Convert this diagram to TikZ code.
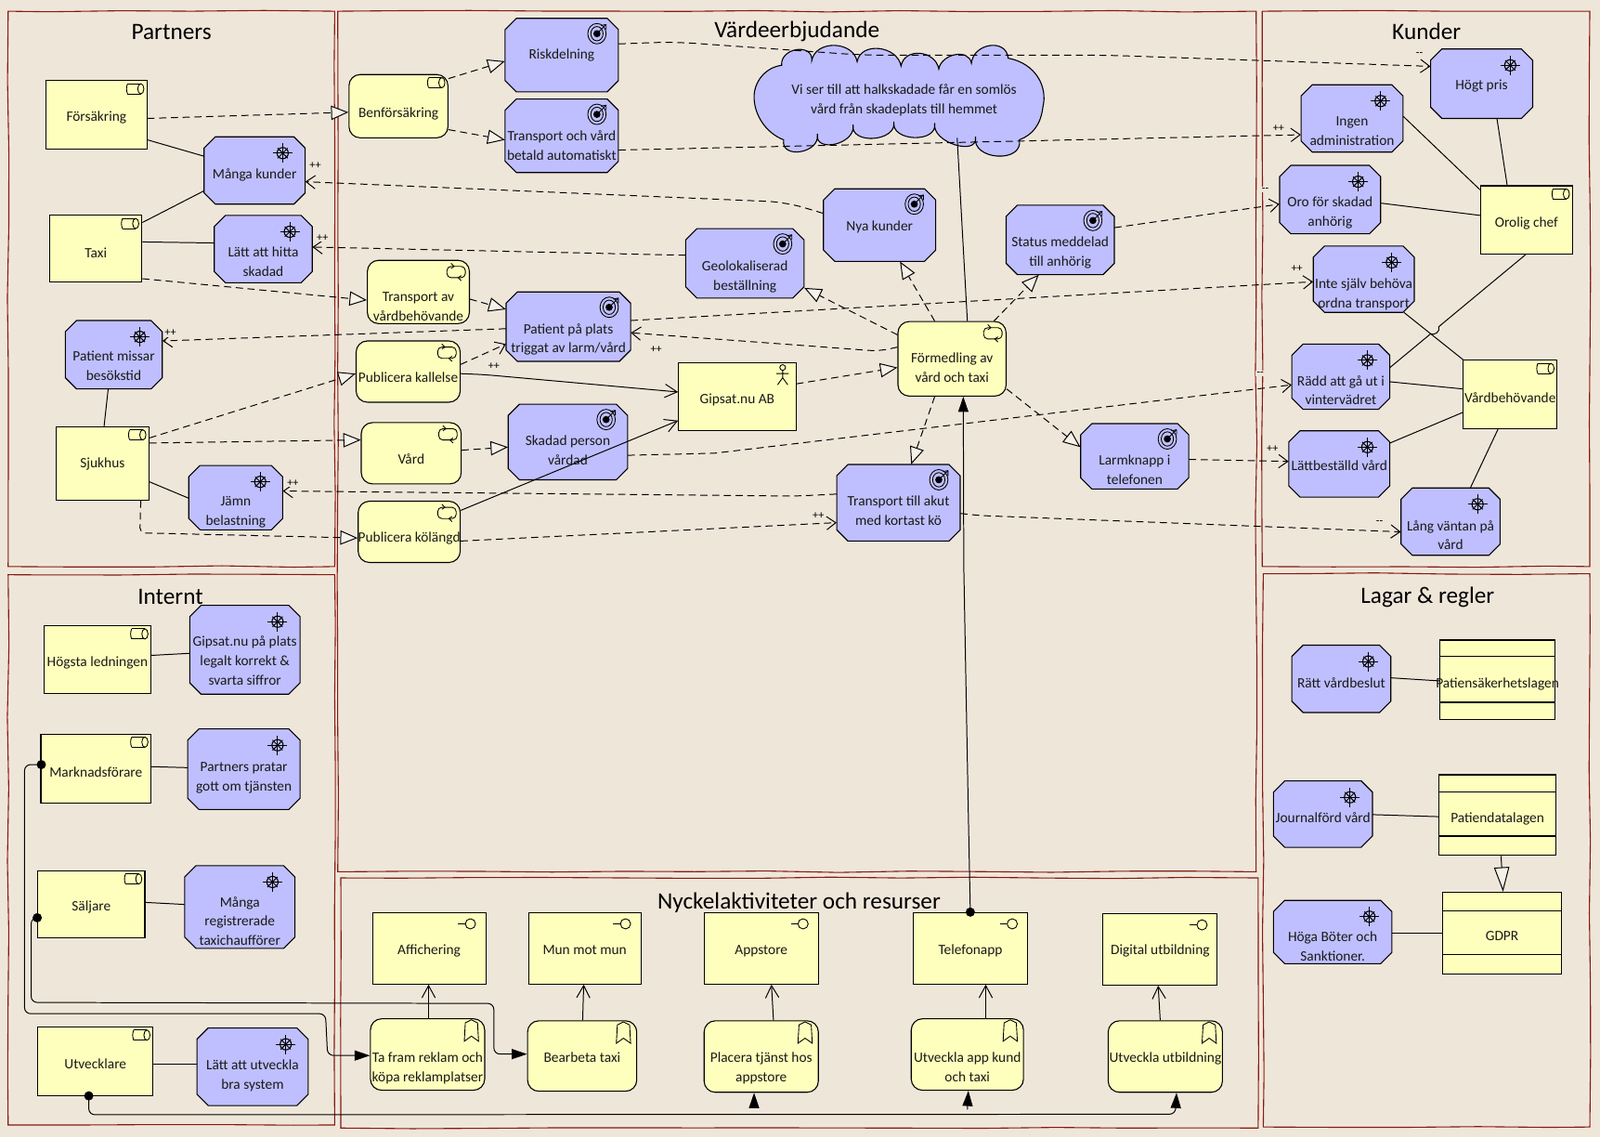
\documentclass[tikz,border=0pt]{standalone}
\usepackage{fontspec}
\setmainfont{Carlito}
\usetikzlibrary{arrows.meta,decorations.pathmorphing,calc}
\definecolor{bgc}{HTML}{EFE6DA}
\definecolor{yel}{HTML}{FFFFBD}
\definecolor{blu}{HTML}{BFBFFF}
\definecolor{frm}{HTML}{851A10}
\definecolor{tipf}{HTML}{F6F1E9}
\tikzset{
 frame/.style={draw=frm,line width=1pt,decorate,decoration={random steps,segment length=70pt,amplitude=0.8pt}},
 grouptitle/.style={font=\fontsize{23}{26}\selectfont,inner sep=0pt},
 boxtext/.style={font=\fontsize{14}{19}\selectfont,inner sep=0pt,text=black!90},
 yrect/.style={boxtext,draw=black,fill=yel,line width=1pt},
 yround/.style={boxtext,draw=black,fill=yel,line width=1pt,rounded corners=11pt},
 plainbox/.style={boxtext},
 lab/.style={font=\fontsize{11}{12}\selectfont,fill=bgc,inner sep=1pt},
 dsh/.style={line width=0.9pt,dash pattern=on 7pt off 4.5pt},
 real/.style={dsh,-{Triangle[length=17pt,width=14pt,fill=tipf]}},
 realsolid/.style={line width=0.9pt,-{Triangle[length=24pt,width=15pt,fill=tipf]}},
 infl/.style={dsh,-{Straight Barb[length=9pt,width=13pt]}},
 solidln/.style={line width=0.9pt},
 serve/.style={line width=0.9pt,-{Straight Barb[length=12pt,width=13pt]}},
 dotlink/.style={line width=0.9pt,rounded corners=6pt,{Circle[length=9pt]}-{Triangle[length=15pt,width=10pt]}},
 icn/.style={line width=0.8pt},
 noicon/.pic={},
 ricon/.pic={\begin{scope}[shift={(-11,8)},icn]
   \draw (-8,-5) -- (5,-5) (-8,5) -- (5,5); \draw (-8,-5) to[bend right=20] (-8,5); \draw (5,0) ellipse (3 and 5);\end{scope}},
 picon/.pic={\begin{scope}[shift={(-13,11)},icn]
   \draw[rounded corners=4pt] (-9,-5) rectangle (9,6); \draw (-5,-8) -- (-2,-5) -- (-5,-3) (5,9) -- (2,6) -- (5,4);\end{scope}},
 dicon/.pic={\begin{scope}[shift={(-22,16)},icn]
   \draw[line width=1pt] (0,0) circle[radius=5.5pt];
   \foreach \a in {0,90}{\draw[line width=.9pt] (\a:9.5pt) -- (\a+180:9.5pt);}
   \foreach \a in {45,135}{\draw[line width=.9pt] (\a:7pt) -- (\a+180:7pt);}
   \end{scope}},
 gicon/.pic={\begin{scope}[shift={(-21,15)},icn]
   \draw (0,0) ellipse (9 and 10); \draw (0,0) ellipse (6 and 7); \fill (0,0) circle[radius=3.5pt];
   \draw (0,0) -- (9,-9); \draw (9,-9) -- (4,-8) (9,-9) -- (9,-4);\end{scope}},
 iicon/.pic={\begin{scope}[shift={(-15,11)},icn]
   \draw (0,0) circle[radius=5pt]; \draw (-5,0) -- (-12,0);\end{scope}},
 eicon/.pic={\begin{scope}[shift={(-13,12)},icn]
   \draw (-6,-8) -- (-7,10) -- (0,5) -- (7,10) -- (6,-8) -- (0,-11) -- cycle;\end{scope}},
 aicon/.pic={\begin{scope}[shift={(-13,12)},icn]
   \draw (0,-7) circle[radius=2.8pt]; \draw (0,-4) -- (0,3) (-6,-1) -- (6,-1) (0,3) -- (-5,10) (0,3) -- (5,10);\end{scope}},
}
% #1 style #2 icon #3 name #4 x0 #5 y0 #6 x1 #7 y1 #8 text centre y #9 text
\newcommand{\nd}[9]{%
 \pgfmathsetmacro\myW{#6-#4}\pgfmathsetmacro\myH{#7-#5}%
 \pgfmathsetmacro\myCX{(#4+#6)/2}\pgfmathsetmacro\myCY{(#5+#7)/2}%
 \pgfmathsetmacro\myD{\myCY-#8-5}%
 \node[#1,minimum width=\myW pt,minimum height=\myH pt] (#3) at (\myCX,\myCY)
   {\makebox[0pt][c]{\raisebox{\myD pt}[0pt][0pt]{\begin{tabular}{@{}c@{}}#9\end{tabular}}}};%
 \pic at (#6,#5) {#2};%
}
% octagon (blue): icon name x0 y0 x1 y1 ty text
\newcommand{\oc}[8]{%
 \filldraw[fill=blu,draw=black,line width=1pt]
  ({#3+11},#4) -- ({#5-11},#4) -- (#5,{#4+11}) -- (#5,{#6-11}) -- ({#5-11},#6) -- ({#3+11},#6) -- (#3,{#6-11}) -- (#3,{#4+11}) -- cycle;%
 \nd{plainbox}{#1}{#2}{#3}{#4}{#5}{#6}{#7}{#8}%
}
\newcommand{\ctl}[3]{\draw[line width=1pt] (#1,#3) -- (#2,#3);}
\begin{document}
\begin{tikzpicture}[x=1pt,y=-1pt]
\useasboundingbox (0,0) rectangle (1568,1114);
\fill[bgc] (0,0) rectangle (1568,1114);
% groups
\node[frame,minimum width=320pt,minimum height=544pt,inner sep=0pt] (gpartners) at (168,283) {};
\node[frame,minimum width=900pt,minimum height=843pt,inner sep=0pt] (gvarde) at (781,432.5) {};
\node[frame,minimum width=321pt,minimum height=544pt,inner sep=0pt] (gkunder) at (1397.5,283) {};
\node[frame,minimum width=320pt,minimum height=539pt,inner sep=0pt] (ginternt) at (168,832.5) {};
\node[frame,minimum width=899pt,minimum height=245pt,inner sep=0pt] (gnyckel) at (783.5,982.5) {};
\node[frame,minimum width=320pt,minimum height=542pt,inner sep=0pt] (glagar) at (1398,833) {};
\node[grouptitle] (t1) at (168,31) {Partners};
\node[grouptitle] (t2) at (781,31) {Värdeerbjudande};
\node[grouptitle] (t3) at (1398,31) {Kunder};
\node[grouptitle] (t4) at (167,585) {Internt};
\node[grouptitle] (t5) at (783,884) {Nyckelaktiviteter och resurser};
\node[grouptitle] (t6) at (1399,585) {Lagar \& regler};

% Partners
\nd{yrect}{ricon}{forsakring}{45}{79}{144}{146}{114}{Försäkring}
\oc{dicon}{manga}{200}{134}{299}{200}{170}{Många kunder}
\nd{yrect}{ricon}{taxi}{49}{211}{139}{276}{247}{Taxi}
\oc{dicon}{latt}{210}{211}{306}{277}{256}{Lätt att hitta\\skadad}
\oc{dicon}{missar}{64}{314}{159}{381}{358}{Patient missar\\besökstid}
\nd{yrect}{ricon}{sjukhus}{55}{418}{146}{490}{453}{Sjukhus}
\oc{dicon}{jamn}{185}{456}{277}{519}{500}{Jämn\\belastning}
% Value column
\nd{yround}{ricon}{benf}{342}{73}{439}{135}{110}{Benförsäkring}
\oc{gicon}{risk}{495}{18}{606}{90}{53}{Riskdelning}
\oc{gicon}{tov}{495}{97}{606}{169}{142.5}{Transport och vård\\betald automatiskt}
\nd{yround}{picon}{transpv}{360}{255}{460}{317}{300}{Transport av\\vårdbehövande}
\oc{gicon}{plats}{496}{286}{618}{354}{331}{Patient på plats\\triggat av larm/vård}
\nd{yround}{picon}{pubkall}{349}{334}{451}{394}{369}{Publicera kallelse}
\nd{yround}{picon}{vard}{354}{414}{452}{474}{449}{Vård}
\oc{gicon}{skadad}{498}{396}{615}{470}{441}{Skadad person\\vårdad}
\nd{yround}{picon}{pubkol}{351}{491}{451}{551}{526}{Publicera kölängd}
\nd{yrect}{aicon}{gipsat}{665}{355}{780}{422}{390}{Gipsat.nu AB}
\oc{gicon}{nya}{807}{185}{917}{256}{221}{Nya kunder}
\oc{gicon}{geo}{672}{224}{788}{292}{270}{Geolokaliserad\\beställning}
\oc{gicon}{status}{986}{201}{1092}{269}{246}{Status meddelad\\till anhörig}
\nd{yround}{picon}{form}{880}{315}{986}{388}{360}{Förmedling av\\vård och taxi}
\oc{gicon}{larm}{1059}{415}{1165}{479}{460}{Larmknapp i\\telefonen}
\oc{gicon}{trakut}{820}{455}{941}{530}{500}{Transport till akut\\med kortast kö}
% Cloud
\filldraw[fill=blu,draw=black,line width=1pt]
 (766,64) to[out=95,in=85,looseness=1.5] (795.5,59.4)
 to[out=80,in=100,looseness=1.2] (840,60.4)
 to[out=80,in=100,looseness=1.2] (883,64.7)
 to[out=80,in=100,looseness=1.3] (920,67.6)
 to[out=80,in=100,looseness=1.2] (952,62)
 to[out=85,in=95,looseness=1.4] (988,57)
 .. controls (1015,62) and (1027,85) .. (1022,105)
 .. controls (1020,122) and (1012,132) .. (999,137)
 to[out=-80,in=-100,looseness=1.4] (956,134)
 to[out=-80,in=-100,looseness=1.2] (916,120.5)
 to[out=-80,in=-100,looseness=1.3] (876,119)
 to[out=-80,in=-100,looseness=1.3] (836,122)
 to[out=-80,in=-100,looseness=1.4] (801,131)
 to[out=-80,in=-100,looseness=1.5] (768,137)
 .. controls (750,130) and (739,112) .. (739,95)
 .. controls (739,80) and (750,66) .. (766,64) -- cycle;
\node[boxtext] (cloud) at (886,96.5) {\makebox[0pt][c]{\raisebox{-5pt}[0pt][0pt]{\begin{tabular}{@{}c@{}}Vi ser till att halkskadade får en somlös\\vård från skadeplats till hemmet\end{tabular}}}};
% Kunder
\oc{dicon}{hogt}{1402}{48}{1502}{116}{83}{Högt pris}
\oc{dicon}{ingen}{1275}{83}{1375}{149}{128}{Ingen\\administration}
\oc{dicon}{oro}{1254}{162}{1353}{229}{207}{Oro för skadad\\anhörig}
\nd{yrect}{ricon}{orolig}{1451}{182}{1541}{249}{217}{Orolig chef}
\oc{dicon}{inte}{1287}{241}{1386}{306}{287}{Inte själv behöva\\ordna transport}
\oc{dicon}{radd}{1266}{337}{1362}{401}{382}{Rädd att gå ut i\\vintervädret}
\nd{yrect}{ricon}{vardb}{1434}{353}{1526}{420}{389}{Vårdbehövande}
\oc{dicon}{lattb}{1263}{422}{1362}{487}{456}{Lättbeställd vård}
\oc{dicon}{lang}{1373}{478}{1470}{544}{524}{Lång väntan på\\vård}
% Internt
\nd{yrect}{ricon}{hogsta}{43}{613}{148}{679}{648}{Högsta ledningen}
\oc{dicon}{gip}{186}{593}{294}{680}{647}{Gipsat.nu på plats\\legalt korrekt \&\\svarta siffror}
\nd{yrect}{ricon}{marknad}{40}{719}{148}{787}{756}{Marknadsförare}
\oc{dicon}{partners}{184}{714}{294}{793}{760}{Partners pratar\\gott om tjänsten}
\nd{yrect}{ricon}{saljare}{37}{853}{142}{919}{887}{Säljare}
\oc{dicon}{mangareg}{181}{848}{289}{929}{902}{Många\\registrerade\\taxichaufförer}
\nd{yrect}{ricon}{utv}{37}{1006}{150}{1073}{1042}{Utvecklare}
\oc{dicon}{lattutv}{193}{1007}{302}{1083}{1052}{Lätt att utveckla\\bra system}
% Nyckel
\nd{yrect}{iicon}{affich}{365}{894}{476}{964}{930}{Affichering}
\nd{yrect}{iicon}{mun}{518}{894}{628}{964}{930}{Mun mot mun}
\nd{yrect}{iicon}{appst}{690}{894}{802}{964}{930}{Appstore}
\nd{yrect}{iicon}{tel}{895}{894}{1007}{964}{930}{Telefonapp}
\nd{yrect}{iicon}{dig}{1081}{895}{1193}{965}{930}{Digital utbildning}
\nd{yround}{eicon}{tafram}{363}{998}{475}{1068}{1045}{Ta fram reklam och\\köpa reklamplatser}
\nd{yround}{eicon}{bearb}{517}{1000}{624}{1069}{1035}{Bearbeta taxi}
\nd{yround}{eicon}{plac}{690}{1000}{802}{1070}{1045}{Placera tjänst hos\\appstore}
\nd{yround}{eicon}{utvapp}{893}{998}{1003}{1068}{1045}{Utveckla app kund\\och taxi}
\nd{yround}{eicon}{utvutb}{1086}{1000}{1198}{1070}{1035}{Utveckla utbildning}
% Lagar
\oc{dicon}{ratt}{1266}{632}{1363}{698}{669}{Rätt vårdbeslut}
\nd{yrect}{noicon}{pat}{1411}{627}{1524}{705}{669}{Patiensäkerhetslagen}
\ctl{1411}{1524}{643}\ctl{1411}{1524}{688}
\oc{dicon}{journ}{1248}{765}{1345}{830}{801}{Journalförd vård}
\nd{yrect}{noicon}{patd}{1410}{759}{1525}{838}{801}{Patiendatalagen}
\ctl{1410}{1525}{775.5}\ctl{1410}{1525}{819}
\oc{dicon}{hoga}{1248}{882}{1364}{944}{927}{Höga Böter och\\Sanktioner.}
\nd{yrect}{noicon}{gdpr}{1414}{874}{1530}{954}{916}{GDPR}
\ctl{1414}{1530}{892}\ctl{1414}{1530}{935}

% realization
\draw[real] (forsakring.east |- 0,116) -- (benf.west |- 0,110);
\draw[real] (benf.east |- 0,77) -- (risk.west |- 0,60);
\draw[real] (benf.east |- 0,127) -- (tov.west |- 0,137);
\draw[real] (taxi.east |- 0,273) -- (transpv.west |- 0,294);
\draw[real] (transpv.east |- 0,293) -- (plats.west |- 0,303);
\draw[infl] (pubkall.east |- 0,357) -- (plats.west |- 0,337);
\draw[real] (vard.east |- 0,441) -- (skadad.west |- 0,438);
\draw[real] (sjukhus.east |- 0,429) -- (pubkall.west |- 0,366);
\draw[real] (sjukhus.east |- 0,434) -- (vard.west |- 0,431);
\draw[real,rounded corners=5pt] (sjukhus.south -| 138,0) -- (137,522) -- (pubkol.west |- 0,527);
\draw[real] (form.west |- 0,328) -- (geo.east |- 0,282);
\draw[real] (form.north -| 916,0) -- (nya.south -| 882,0);
\draw[real] (form.north -| 974,0) -- (status.south -| 1018,0);
\draw[real] (form.east |- 0,381) -- (larm.west |- 0,438);
\draw[real] (form.south -| 916,0) -- (trakut.north -| 893,0);
\draw[real] (gipsat.east |- 0,376) -- (form.west |- 0,360);
% influence
\draw[infl,rounded corners=18pt] (nya.west |- 0,209) -- (770,198) -- (manga.east |- 0,178);
\draw[infl,rounded corners=18pt] (geo.west |- 0,250) -- (625,249) -- (latt.east |- 0,242);
\draw[infl] (plats.west |- 0,322) -- (missar.east |- 0,334);
\draw[infl,rounded corners=12pt] (trakut.west |- 0,484) -- (780,486) -- (jamn.east |- 0,481);
\draw[infl,rounded corners=10pt] (form.west |- 0,340) -- (862,344) -- (plats.east |- 0,326);
\draw[infl] (plats.east |- 0,314) -- (inte.west |- 0,276);
\draw[infl] (skadad.east |- 0,446) -- (700,444) -- (radd.west |- 0,377);
\draw[infl] (pubkol.east |- 0,530) -- (trakut.west |- 0,512);
\draw[infl,rounded corners=8pt] (trakut.east |- 0,503) -- (960,505) -- (lang.west |- 0,521);
\draw[infl,rounded corners=20pt] (risk.east |- 0,43) -- (660,41) -- (845,54) -- (1082,54) -- (hogt.west |- 0,65);
\draw[infl] (tov.east |- 0,147) -- (ingen.west |- 0,132);
\draw[infl] (status.east |- 0,223) -- (oro.west |- 0,200);
\draw[infl] (larm.east |- 0,450) -- (lattb.west |- 0,452);
% association
\draw[solidln] (forsakring.east |- 0,137) -- (manga.west |- 0,153);
\draw[solidln] (taxi.east |- 0,218) -- (manga.west |- 0,187);
\draw[solidln] (taxi.east |- 0,237) -- (latt.west |- 0,238);
\draw[solidln] (missar.south -| 106,0) -- (sjukhus.north -| 102,0);
\draw[solidln] (sjukhus.east |- 0,472) -- (jamn.west |- 0,488);
\draw[solidln] (hogsta.east |- 0,642) -- (gip.west |- 0,640);
\draw[solidln] (marknad.east |- 0,751) -- (partners.west |- 0,752);
\draw[solidln] (saljare.east |- 0,884) -- (mangareg.west |- 0,886);
\draw[solidln] (utv.east |- 0,1042) -- (lattutv.west |- 0,1042);
\coordinate (cloudfoot) at (938,135);
\draw[solidln] (cloudfoot) -- (form.north -| 948,0);
\draw[solidln] (hogt.south -| 1467,0) -- (orolig.north -| 1477,0);
\draw[solidln] (ingen.east |- 0,114) -- (orolig.west |- 0,186);
\draw[solidln] (oro.east |- 0,199) -- (orolig.west |- 0,211);
\draw[solidln] (orolig.south -| 1495,0) -- (1410,320) .. controls (1412,325) and (1405,329) .. (1402,327) -- (radd.east |- 0,360);
\draw[solidln] (inte.south -| 1376,0) -- (vardb.north -| 1434,0);
\draw[solidln] (radd.east |- 0,374) -- (vardb.west |- 0,381);
\draw[solidln] (lattb.east |- 0,434) -- (vardb.west |- 0,404);
\draw[solidln] (lang.north -| 1441,0) -- (vardb.south -| 1468,0);
\draw[solidln] (ratt.east |- 0,664) -- (pat.west |- 0,667);
\draw[solidln] (journ.east |- 0,798) -- (patd.west |- 0,800);
\draw[solidln] (hoga.east |- 0,914) -- (gdpr.west |- 0,914);
\draw[realsolid] (patd.south -| 1471,0) -- (gdpr.north -| 1473,0);
% serving
\draw[serve,rounded corners=10pt] (pubkall.east |- 0,366) -- (475,367) -- (gipsat.west |- 0,384);
\draw[serve] (pubkol.east |- 0,500) -- (gipsat.west |- 0,412);
\draw[serve] (tafram.north -| 420,0) -- (affich.south -| 420,0);
\draw[serve] (bearb.north -| 571,0) -- (mun.south -| 572,0);
\draw[serve] (plac.north -| 758,0) -- (appst.south -| 756,0);
\draw[serve] (utvapp.north -| 966,0) -- (tel.south -| 966,0);
\draw[serve] (utvutb.north -| 1137,0) -- (dig.south -| 1135,0);
% triggering with dots
\draw[dotlink] ([yshift=-4.5pt]tel.north -| 951,0) -- (949,800) -- (944.5,555) -- (form.south -| 944,0);
\draw[dotlink] ([xshift=5.5pt]marknad.west |- 0,749) -- (24,749) -- (24,993) -- (319,993) -- (321,1034) -- (tafram.west |- 0,1034);
\draw[dotlink] ([xshift=4.5pt]saljare.west |- 0,899) -- (30.5,899) -- (30.5,982) -- (484,983) -- (484,1032.6) -- (bearb.west |- 0,1032.6);
\draw[dotlink] ([yshift=4.5pt]utv.south -| 87,0) -- (87,1092) -- (1152,1091.5) -- (utvutb.south -| 1153,0);
\coordinate (stubA) at (739,1084);
\coordinate (stubB) at (948,1087);
\draw[line width=.9pt,-{Triangle[length=15pt,width=10pt]}] (stubA) -- (plac.south -| 739,0);
\draw[line width=.9pt,-{Triangle[length=15pt,width=10pt]}] (stubB) -- (utvapp.south -| 949,0);
% labels
\node[lab] (p1) at (309,162) {++};
\node[lab] (p2) at (316,233) {++};
\node[lab] (p3) at (167,326) {++};
\node[lab] (p4) at (287,473) {++};
\node[lab] (p5) at (643,342) {++};
\node[lab] (p6) at (1271,263) {++};
\node[lab] (p7) at (484,359) {++};
\node[lab] (p8) at (802,505) {++};
\node[lab] (p9) at (1253,126) {++};
\node[lab] (p10) at (1247,440) {++};
\node[lab] (m1) at (1391,53) {-{}-};
\node[lab] (m2) at (1240,186) {-{}-};
\node[lab] (m3) at (1235,366) {-{}-};
\node[lab] (m4) at (1352,512) {-{}-};
\end{tikzpicture}
\end{document}
